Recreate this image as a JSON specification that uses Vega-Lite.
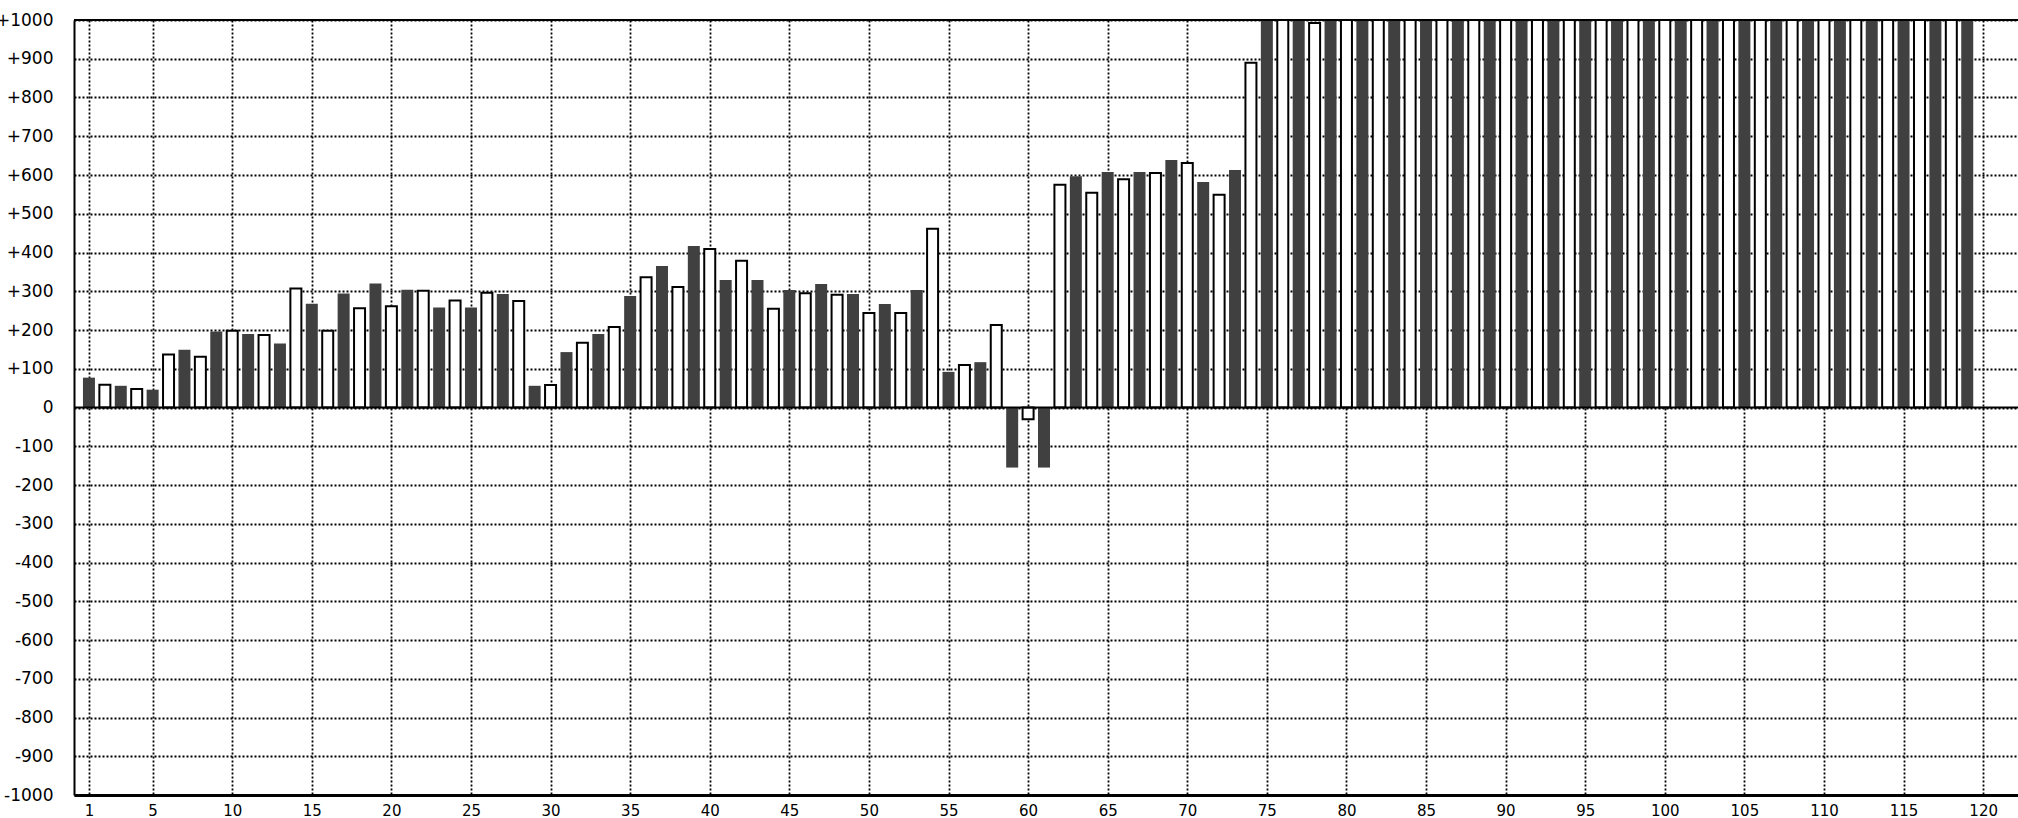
{
  "$schema": "https://vega.github.io/schema/vega-lite/v6.json",
  "autosize": "none",
  "width": 1944,
  "height": 775,
  "padding": {"left": 74, "top": 20, "right": 0, "bottom": 23},
  "background": "white",
  "config": {"view": {"stroke": null}},
  "datasets": {
    "bars": [
      {"i":1,"v":77,"s":"dark"},{"i":2,"v":59,"s":"light"},{"i":3,"v":56,"s":"dark"},{"i":4,"v":48,"s":"light"},
      {"i":5,"v":46,"s":"dark"},{"i":6,"v":137,"s":"light"},{"i":7,"v":149,"s":"dark"},{"i":8,"v":131,"s":"light"},
      {"i":9,"v":196,"s":"dark"},{"i":10,"v":198,"s":"light"},{"i":11,"v":190,"s":"dark"},{"i":12,"v":187,"s":"light"},
      {"i":13,"v":165,"s":"dark"},{"i":14,"v":307,"s":"light"},{"i":15,"v":268,"s":"dark"},{"i":16,"v":198,"s":"light"},
      {"i":17,"v":294,"s":"dark"},{"i":18,"v":256,"s":"light"},{"i":19,"v":320,"s":"dark"},{"i":20,"v":261,"s":"light"},
      {"i":21,"v":304,"s":"dark"},{"i":22,"v":301,"s":"light"},{"i":23,"v":258,"s":"dark"},{"i":24,"v":276,"s":"light"},
      {"i":25,"v":258,"s":"dark"},{"i":26,"v":296,"s":"light"},{"i":27,"v":293,"s":"dark"},{"i":28,"v":275,"s":"light"},
      {"i":29,"v":56,"s":"dark"},{"i":30,"v":58,"s":"light"},{"i":31,"v":143,"s":"dark"},{"i":32,"v":167,"s":"light"},
      {"i":33,"v":190,"s":"dark"},{"i":34,"v":208,"s":"light"},{"i":35,"v":288,"s":"dark"},{"i":36,"v":336,"s":"light"},
      {"i":37,"v":365,"s":"dark"},{"i":38,"v":311,"s":"light"},{"i":39,"v":417,"s":"dark"},{"i":40,"v":409,"s":"light"},
      {"i":41,"v":329,"s":"dark"},{"i":42,"v":379,"s":"light"},{"i":43,"v":329,"s":"dark"},{"i":44,"v":255,"s":"light"},
      {"i":45,"v":303,"s":"dark"},{"i":46,"v":295,"s":"light"},{"i":47,"v":319,"s":"dark"},{"i":48,"v":291,"s":"light"},
      {"i":49,"v":293,"s":"dark"},{"i":50,"v":244,"s":"light"},{"i":51,"v":267,"s":"dark"},{"i":52,"v":244,"s":"light"},
      {"i":53,"v":303,"s":"dark"},{"i":54,"v":461,"s":"light"},{"i":55,"v":92,"s":"dark"},{"i":56,"v":110,"s":"light"},
      {"i":57,"v":117,"s":"dark"},{"i":58,"v":213,"s":"light"},{"i":59,"v":-155,"s":"dark"},{"i":60,"v":-30,"s":"light"},
      {"i":61,"v":-155,"s":"dark"},{"i":62,"v":575,"s":"light"},{"i":63,"v":597,"s":"dark"},{"i":64,"v":554,"s":"light"},
      {"i":65,"v":608,"s":"dark"},{"i":66,"v":589,"s":"light"},{"i":67,"v":608,"s":"dark"},{"i":68,"v":605,"s":"light"},
      {"i":69,"v":639,"s":"dark"},{"i":70,"v":631,"s":"light"},{"i":71,"v":582,"s":"dark"},{"i":72,"v":549,"s":"light"},
      {"i":73,"v":613,"s":"dark"},{"i":74,"v":890,"s":"light"},{"i":75,"v":1100,"s":"dark"},{"i":76,"v":1100,"s":"light"},
      {"i":77,"v":1100,"s":"dark"},{"i":78,"v":992,"s":"light"},{"i":79,"v":1100,"s":"dark"},{"i":80,"v":1100,"s":"light"},
      {"i":81,"v":1100,"s":"dark"},{"i":82,"v":1100,"s":"light"},{"i":83,"v":1100,"s":"dark"},{"i":84,"v":1100,"s":"light"},
      {"i":85,"v":1100,"s":"dark"},{"i":86,"v":1100,"s":"light"},{"i":87,"v":1100,"s":"dark"},{"i":88,"v":1100,"s":"light"},
      {"i":89,"v":1100,"s":"dark"},{"i":90,"v":1100,"s":"light"},{"i":91,"v":1100,"s":"dark"},{"i":92,"v":1100,"s":"light"},
      {"i":93,"v":1100,"s":"dark"},{"i":94,"v":1100,"s":"light"},{"i":95,"v":1100,"s":"dark"},{"i":96,"v":1100,"s":"light"},
      {"i":97,"v":1100,"s":"dark"},{"i":98,"v":1100,"s":"light"},{"i":99,"v":1100,"s":"dark"},{"i":100,"v":1100,"s":"light"},
      {"i":101,"v":1100,"s":"dark"},{"i":102,"v":1100,"s":"light"},{"i":103,"v":1100,"s":"dark"},{"i":104,"v":1100,"s":"light"},
      {"i":105,"v":1100,"s":"dark"},{"i":106,"v":1100,"s":"light"},{"i":107,"v":1100,"s":"dark"},{"i":108,"v":1100,"s":"light"},
      {"i":109,"v":1100,"s":"dark"},{"i":110,"v":1100,"s":"light"},{"i":111,"v":1100,"s":"dark"},{"i":112,"v":1100,"s":"light"},
      {"i":113,"v":1100,"s":"dark"},{"i":114,"v":1100,"s":"light"},{"i":115,"v":1100,"s":"dark"},{"i":116,"v":1100,"s":"light"},
      {"i":117,"v":1100,"s":"dark"},{"i":118,"v":1100,"s":"light"},{"i":119,"v":1100,"s":"dark"}
    ],
    "refs": [{"y": 1000, "z": 0}]
  },
  "encoding": {
    "x": {
      "field": "i", "type": "quantitative",
      "scale": {"domain": [0.375, 121.875], "nice": false, "zero": false},
      "axis": {
        "values": [1,5,10,15,20,25,30,35,40,45,50,55,60,65,70,75,80,85,90,95,100,105,110,115,120],
        "title": null, "grid": true, "gridColor": "#000000", "gridDash": [2,2], "gridWidth": 1.8, "gridOpacity": 1,
        "domain": true, "domainColor": "#000000", "domainWidth": 3,
        "ticks": false, "tickSize": 0,
        "labelFont": "DejaVu Sans", "labelFontSize": 15, "labelColor": "#000000",
        "labelPadding": 8, "labelFlush": false, "labelOverlap": false, "labelBound": false
      }
    },
    "y": {
      "field": "v", "type": "quantitative",
      "scale": {"domain": [-1000, 1000], "nice": false},
      "axis": {
        "values": [-1000,-900,-800,-700,-600,-500,-400,-300,-200,-100,0,100,200,300,400,500,600,700,800,900,1000],
        "title": null, "grid": true, "gridColor": "#000000", "gridDash": [2,2], "gridWidth": 1.8, "gridOpacity": 1,
        "domain": true, "domainColor": "#000000", "domainWidth": 2,
        "ticks": false, "tickSize": 0,
        "labelExpr": "datum.value > 0 ? '+' + datum.value : '' + datum.value",
        "labelFont": "DejaVu Sans", "labelFontSize": 17, "labelColor": "#000000",
        "labelPadding": 21, "labelOverlap": false, "labelBound": false, "labelFlush": false
      }
    }
  },
  "layer": [
    {
      "data": {"name": "bars"},
      "transform": [{"filter": "datum.s === 'dark'"}],
      "mark": {"type": "bar", "size": 12, "color": "#404040", "clip": true}
    },
    {
      "data": {"name": "bars"},
      "transform": [{"filter": "datum.s === 'light'"}],
      "mark": {"type": "bar", "size": 11, "fill": "#ffffff", "stroke": "#000000", "strokeWidth": 2, "clip": true}
    },
    {
      "data": {"name": "refs"},
      "mark": {"type": "rule", "color": "#000000", "strokeWidth": 2},
      "encoding": {"x": null, "y": {"field": "z", "type": "quantitative"}}
    },
    {
      "data": {"name": "refs"},
      "mark": {"type": "rule", "color": "#000000", "strokeWidth": 2},
      "encoding": {"x": null, "y": {"field": "y", "type": "quantitative"}}
    }
  ]
}
